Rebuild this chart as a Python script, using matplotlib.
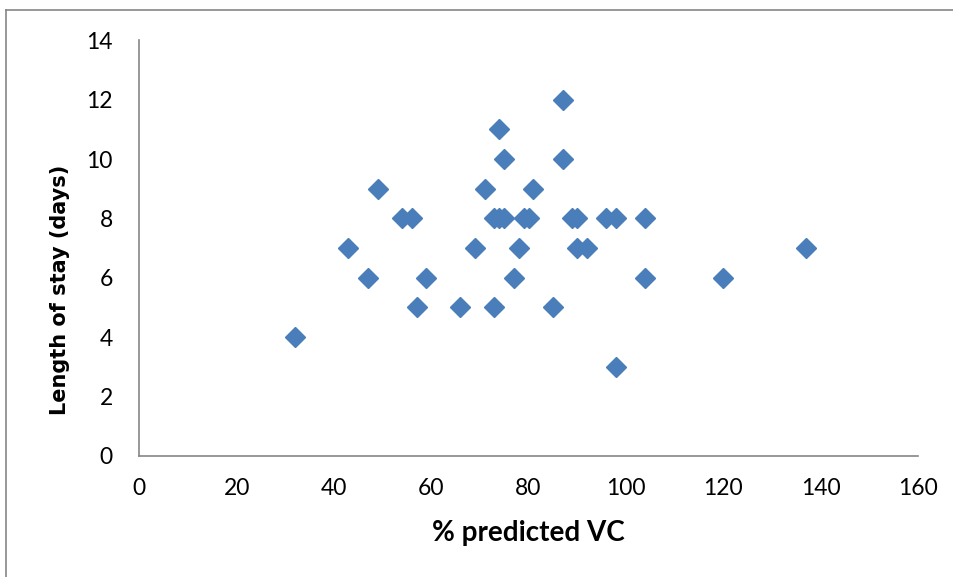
import matplotlib.pyplot as plt
from matplotlib.lines import Line2D

# % predicted VC vs length of stay
vc = [32, 43, 47, 49, 54, 56, 57, 59, 66, 69, 71, 73, 73, 74, 74, 75, 75,
      77, 78, 79, 80, 81, 85, 87, 87, 89, 90, 90, 92, 96, 98, 98, 104, 104,
      120, 137]
stay = [4, 7, 6, 9, 8, 8, 5, 6, 5, 7, 9, 5, 8, 11, 8, 10, 8,
        6, 7, 8, 8, 9, 5, 12, 10, 8, 8, 7, 7, 8, 8, 3, 8, 6,
        6, 7]

xticks = [0, 20, 40, 60, 80, 100, 120, 140, 160]
yticks = [0, 2, 4, 6, 8, 10, 12, 14]

plt.rcParams['font.family'] = ['Lato', 'DejaVu Sans']

fig = plt.figure(figsize=(9.54, 5.77), dpi=100)
ax = fig.add_axes([0.146, 0.21, 0.816, 0.72])

ax.plot(vc, stay, 'D', color='#4A7EBB', markersize=10.5,
        markeredgecolor='#4A7EBB', clip_on=False)

ax.set_xlim(0, 160)
ax.set_ylim(0, 14)
ax.set_xticks(xticks)
ax.set_yticks(yticks)
ax.tick_params(length=0, labelsize=16.5, colors='black')
ax.tick_params(axis='y', pad=19)
ax.tick_params(axis='x', pad=16)
for s in ['top', 'right']:
    ax.spines[s].set_visible(False)
for s in ['left', 'bottom']:
    ax.spines[s].set_color('#868686')
    ax.spines[s].set_linewidth(1.2)

ax.set_xlabel('% predicted VC', fontsize=20, fontweight='bold')
ax.xaxis.set_label_coords(0.5, -0.155)
ax.set_ylabel('Length of stay (days)', fontsize=15, fontweight='bold',
              family='DejaVu Sans')
ax.yaxis.set_label_coords(-0.089, 0.40)

# outer chart border (left and top visible)
fig.add_artist(Line2D([0.006, 0.006], [0.0, 0.983], color='#868686',
                      linewidth=1.2, transform=fig.transFigure))
fig.add_artist(Line2D([0.006, 1.0], [0.983, 0.983], color='#868686',
                      linewidth=1.2, transform=fig.transFigure))

fig.savefig('out.png', dpi=100)
